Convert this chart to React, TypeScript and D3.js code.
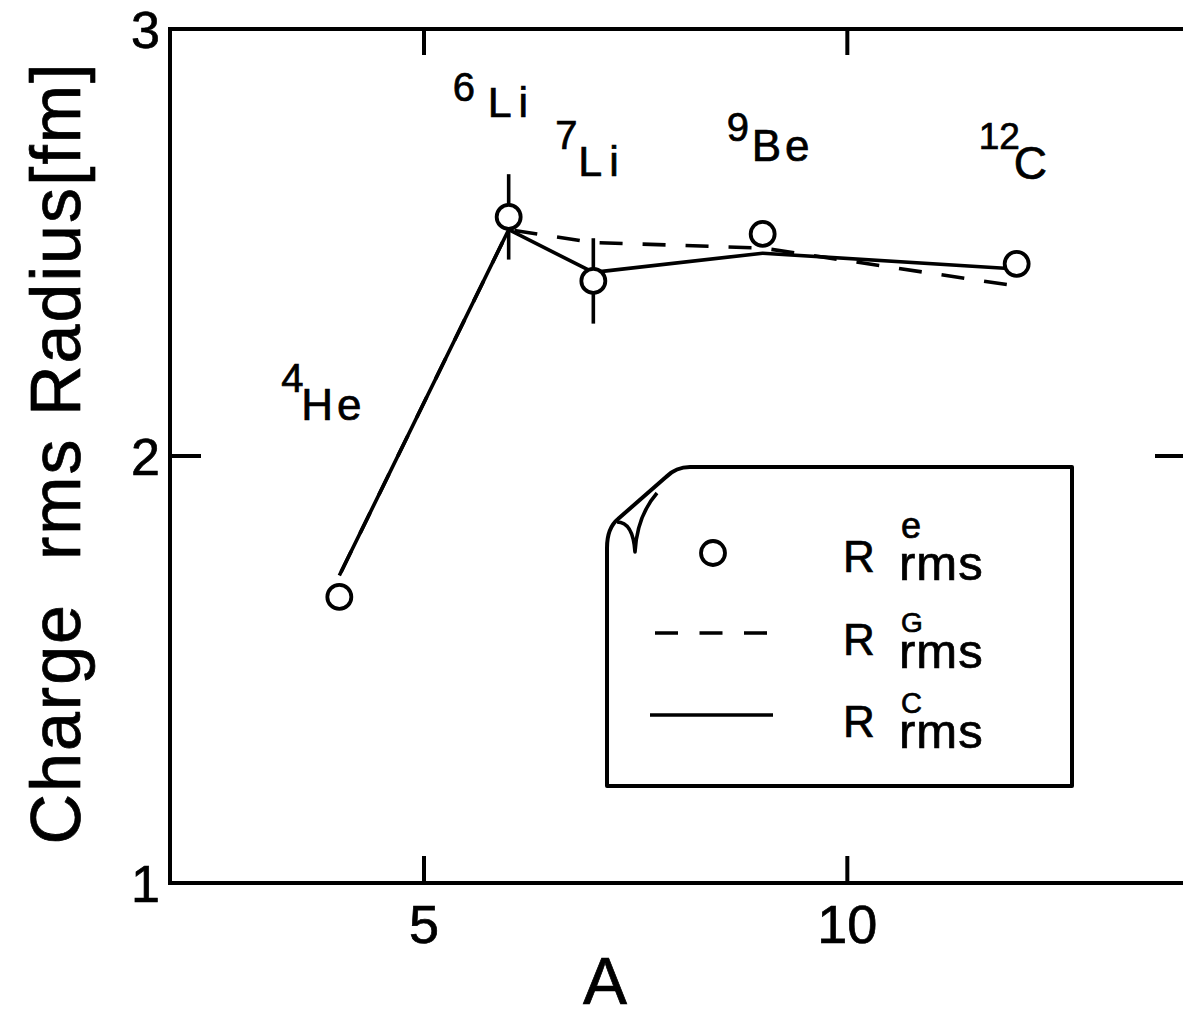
import React from "react";
import * as d3 from "d3";

// ---- data ----
const massNumbers = [4, 6, 7, 9, 12];
const isotopeMass = ["4", "6", "7", "9", "12"];
const elementSymbols = ["He", "Li", "Li", "Be", "C"];
const expRadius = [1.67, 2.56, 2.41, 2.52, 2.45];
const expError = [0, 0.1, 0.1, 0, 0];
const gaussRadius = [1.72, 2.53, 2.5, 2.487, 2.398];
const clusterRadius = [1.72, 2.53, 2.43, 2.475, 2.438];
const xTicks = [5, 10];
const yTicks = [1, 2, 3];
const yTickMarks = [2];
const legendLabels = ["e", "G", "C"];

// ---- layout ----
const W = 1183;
const H = 1017;
const FONT = "'Liberation Sans', Arial, Helvetica, sans-serif";
// label offsets (px) relative to the data point: [supDx, supDy, mainDx, mainDy]
const labelOffsets = [
  [-58, -205, -38, -177],
  [-56, -116, -21, -100],
  [-38, -132, -15, -105],
  [-36, -93, -11, -73],
  [-38, -115, -3, -85],
];
const labelSpacing = [4, 7, 7, 4, 0];
const supFont = [40, 40, 40, 40, 37];
const mainFont = [44, 43, 43, 44, 46];

export default function App() {
  const x = d3.scaleLinear().domain([2, 14]).range([170, 1186]);
  const y = d3.scaleLinear().domain([1, 3]).range([883, 29]);

  const line = d3
    .line<number>()
    .x((_, i) => x(massNumbers[i]))
    .y((d) => y(d));

  const x0 = x(2), x1 = x(14), yT = y(3), yB = y(1);

  const axisW = 4;
  const lineW = 3.6;
  const txtStroke = { stroke: "#000", strokeWidth: 0.7 };

  // legend geometry
  const lg = { l: 607, r: 1072, t: 467, b: 786 };
  const rowY = [553, 633, 715];
  const rBase = [572, 655, 737];
  const supBase = [538, 632, 713];
  const rmsBase = [580, 668, 748];
  const supSize = [36, 28, 29];

  return (
    <svg
      width={W}
      height={H}
      style={{ position: "absolute", left: 0, top: 0, background: "#fff" }}
      fontFamily={FONT}
    >
      <rect x={0} y={0} width={W} height={H} fill="#fff" />
      {/* frame */}
      <rect x={x0} y={yT} width={x1 - x0} height={yB - yT} fill="none" stroke="#000" strokeWidth={axisW} />
      {/* x ticks */}
      {xTicks.map((t) => (
        <g key={"xt" + t}>
          <line x1={x(t)} x2={x(t)} y1={yB} y2={yB - 27} stroke="#000" strokeWidth={axisW} />
          <line x1={x(t)} x2={x(t)} y1={yT} y2={yT + 26} stroke="#000" strokeWidth={axisW} />
          <text x={x(t)} y={943} fontSize={54} textAnchor="middle" {...txtStroke}>{t}</text>
        </g>
      ))}
      {/* y ticks */}
      {yTickMarks.map((t) => (
        <g key={"ym" + t}>
          <line x1={x0} x2={x0 + 31} y1={y(t)} y2={y(t)} stroke="#000" strokeWidth={axisW} />
          <line x1={x1} x2={x1 - 31} y1={y(t)} y2={y(t)} stroke="#000" strokeWidth={axisW} />
        </g>
      ))}
      {yTicks.map((t) => (
        <text key={"yl" + t} x={160} y={y(t) + 19} fontSize={52} textAnchor="end" {...txtStroke}>{t}</text>
      ))}
      {/* axis titles */}
      <text x={605} y={1004} fontSize={66} textAnchor="middle" {...txtStroke}>A</text>
      <text
        transform={`translate(80, 453) rotate(-90)`}
        fontSize={70}
        letterSpacing={2}
        textAnchor="middle"
        xmlSpace="preserve"
        {...txtStroke}
      >
        {"Charge  rms Radius[fm]"}
      </text>

      {/* curves */}
      <path d={line(clusterRadius) || ""} fill="none" stroke="#000" strokeWidth={lineW} strokeLinejoin="round" />
      <path
        d={line(gaussRadius) || ""}
        fill="none"
        stroke="#000"
        strokeWidth={lineW}
        strokeDasharray="23 20"
        strokeDashoffset={-4}
      />

      {/* error bars */}
      {massNumbers.map((a, i) =>
        expError[i] > 0 ? (
          <line
            key={"eb" + i}
            x1={x(a)}
            x2={x(a)}
            y1={y(expRadius[i] + expError[i])}
            y2={y(expRadius[i] - expError[i])}
            stroke="#000"
            strokeWidth={lineW}
          />
        ) : null
      )}
      {/* experimental points */}
      {massNumbers.map((a, i) => (
        <circle key={"pt" + i} cx={x(a)} cy={y(expRadius[i])} r={12} fill="#fff" stroke="#000" strokeWidth={3.8} />
      ))}

      {/* nucleus labels */}
      {massNumbers.map((a, i) => {
        const [sdx, sdy, mdx, mdy] = labelOffsets[i];
        const px = x(a), py = y(expRadius[i]);
        return (
          <g key={"lb" + i}>
            <text x={px + sdx} y={py + sdy} fontSize={supFont[i]} {...txtStroke}>{isotopeMass[i]}</text>
            <text x={px + mdx} y={py + mdy} fontSize={mainFont[i]} letterSpacing={labelSpacing[i]} {...txtStroke}>
              {elementSymbols[i]}
            </text>
          </g>
        );
      })}

      {/* legend box with curled corner */}
      <path
        d={`M ${lg.r} ${lg.t} L 690 ${lg.t} Q 676 ${lg.t} 666 477 L 618 519 Q ${lg.l} 528 ${lg.l} 548 L ${lg.l} ${lg.b} L ${lg.r} ${lg.b} Z`}
        fill="#fff"
        stroke="#000"
        strokeWidth={axisW}
        strokeLinejoin="round"
      />
      <path
        d={`M 617 522 Q 633 522 635 552 Q 637 516 657 493`}
        fill="none"
        stroke="#000"
        strokeWidth={3.6}
        strokeLinejoin="round"
      />
      {/* legend symbols */}
      <circle cx={713} cy={rowY[0]} r={12} fill="#fff" stroke="#000" strokeWidth={3.8} />
      <line x1={655} x2={767} y1={rowY[1]} y2={rowY[1]} stroke="#000" strokeWidth={lineW} strokeDasharray="23 21.5" />
      <line x1={650} x2={773} y1={rowY[2]} y2={rowY[2]} stroke="#000" strokeWidth={lineW} />
      {legendLabels.map((s, i) => (
        <g key={"lg" + s}>
          <text x={843} y={rBase[i]} fontSize={44} {...txtStroke}>R</text>
          <text x={901} y={supBase[i]} fontSize={supSize[i]} {...txtStroke}>{s}</text>
          <text x={899} y={rmsBase[i]} fontSize={49} letterSpacing={1} {...txtStroke}>rms</text>
        </g>
      ))}
    </svg>
  );
}
